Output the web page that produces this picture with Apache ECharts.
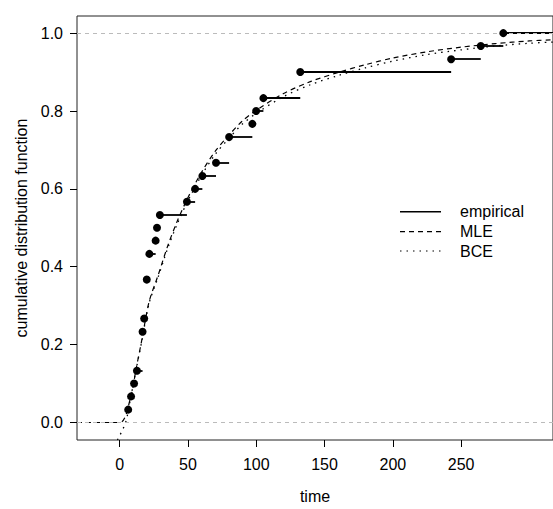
<!DOCTYPE html>
<html><head><meta charset="utf-8">
<script src="https://cdn.jsdelivr.net/npm/echarts@6/dist/echarts.min.js"></script>
<style>html,body{margin:0;padding:0;background:#fff}#c{width:553px;height:509px}</style>
</head><body><div id="c"></div>
<script>
// ---- data ----
const ecdfX = [6.2, 8.3, 10.5, 12.6, 16.7, 17.9, 19.8, 21.7, 26.3, 27.3, 29.4, 49.2, 55.2, 60.5, 70.5, 80.1, 97.1, 99.9, 105.2, 132.2, 242.7, 264.4, 280.9];
const ecdfY = [0.033, 0.067, 0.1, 0.133, 0.233, 0.267, 0.367, 0.433, 0.467, 0.5, 0.533, 0.567, 0.6, 0.633, 0.667, 0.733, 0.767, 0.8, 0.833, 0.9, 0.933, 0.967, 1.0];
const mleX = [-31.3, 0, 8, 12, 16, 21.5, 28, 35, 42, 50, 60, 70, 80, 90, 100, 120, 140, 160, 180, 200, 225, 250, 275, 300, 317.3];
const mleY = [0, 0, 0.065, 0.138, 0.209, 0.31, 0.377, 0.452, 0.516, 0.578, 0.643, 0.697, 0.738, 0.775, 0.802, 0.845, 0.876, 0.899, 0.919, 0.936, 0.952, 0.964, 0.973, 0.98, 0.983];
const bceX = [-1.7, 4.3, 8, 12, 16, 21.5, 28, 35, 42, 50, 60, 70, 80, 90, 100, 120, 140, 160, 180, 200, 225, 250, 275, 300, 317.3];
const bceY = [-0.045, 0, 0.064, 0.136, 0.206, 0.306, 0.372, 0.446, 0.509, 0.57, 0.635, 0.689, 0.73, 0.767, 0.794, 0.837, 0.868, 0.891, 0.911, 0.928, 0.945, 0.957, 0.967, 0.974, 0.977];
const xTicks = [0, 50, 100, 150, 200, 250];
const yTicks = [0, 0.2, 0.4, 0.6, 0.8, 1.0];
const refLines = [0, 1];
const legendLabels = ['empirical', 'MLE', 'BCE'];
const xTitle = 'time';
const yTitle = 'cumulative distribution function';

// ---- chart ----
const X_MIN = -31.3, X_MAX = 317.3;
const FONT = "'Liberation Sans', Arial, sans-serif";
const zip = (a, b) => a.map((v, i) => [v, b[i]]);

const segs = ecdfX.map((x, i) => ({
  coords: [[x, ecdfY[i]], [i + 1 < ecdfX.length ? ecdfX[i + 1] : X_MAX, ecdfY[i]]]
}));

const chart = echarts.init(document.getElementById('c'), null, {renderer: 'svg'});
const legendY = [211.7, 231.7, 251];
const legendDash = ['solid', [5, 4], [1.5, 5]];
const graphic = [];
legendLabels.forEach((t, i) => {
  graphic.push({type: 'line', shape: {x1: 400, y1: legendY[i], x2: 441, y2: legendY[i]},
    style: {stroke: '#000', lineWidth: i === 0 ? 1.6 : 1.2, lineDash: legendDash[i] === 'solid' ? null : legendDash[i]}});
  graphic.push({type: 'text', x: 460, y: legendY[i],
    style: {text: t, font: '16px ' + FONT, fill: '#000', verticalAlign: 'middle', textAlign: 'left'}});
});

chart.setOption({
  animation: false,
  backgroundColor: '#fff',
  textStyle: {fontFamily: FONT},
  grid: {left: 77, width: 486, top: 16, bottom: 68, show: true, borderColor: '#222', borderWidth: 1, containLabel: false},
  xAxis: {
    type: 'value', min: X_MIN, max: X_MAX,
    name: xTitle, nameLocation: 'middle', nameGap: 48,
    nameTextStyle: {fontSize: 16, color: '#000', fontFamily: FONT},
    axisLine: {show: false, onZero: false},
    axisTick: {show: true, length: 7, customValues: xTicks, lineStyle: {color: '#000'}},
    axisLabel: {customValues: xTicks, fontSize: 16, color: '#000', margin: 16, fontFamily: FONT},
    splitLine: {show: false}
  },
  yAxis: {
    type: 'value', min: -0.045, max: 1.044,
    name: yTitle, nameLocation: 'middle', nameGap: 46, nameRotate: 90,
    nameTextStyle: {fontSize: 16, color: '#000', fontFamily: FONT},
    axisLine: {show: false, onZero: false},
    axisTick: {show: true, length: 7, customValues: yTicks, lineStyle: {color: '#000'}},
    axisLabel: {customValues: yTicks, fontSize: 16, color: '#000', margin: 14, fontFamily: FONT,
      formatter: v => v.toFixed(1)},
    splitLine: {show: false}
  },
  graphic: graphic,
  series: [
    {type: 'line', data: [], silent: true,
      markLine: {silent: true, symbol: 'none', label: {show: false},
        lineStyle: {color: '#bbb', type: [4, 4], width: 1},
        data: refLines.map(v => ({yAxis: v}))}},
    {type: 'line', name: 'MLE', data: zip(mleX, mleY), showSymbol: false, smooth: 0.3, clip: true,
      lineStyle: {color: '#000', width: 1.2, type: [5, 4]}, z: 3},
    {type: 'line', name: 'BCE', data: zip(bceX, bceY), showSymbol: false, smooth: 0.3, clip: true,
      lineStyle: {color: '#000', width: 1.3, type: [1.5, 5]}, z: 3},
    {type: 'lines', coordinateSystem: 'cartesian2d', data: segs, silent: true,
      lineStyle: {color: '#000', width: 1.8, opacity: 1}, z: 4},
    {type: 'scatter', data: zip(ecdfX, ecdfY), symbol: 'circle', symbolSize: 8,
      itemStyle: {color: '#000', opacity: 1}, z: 5}
  ]
});
</script>
</body></html>
